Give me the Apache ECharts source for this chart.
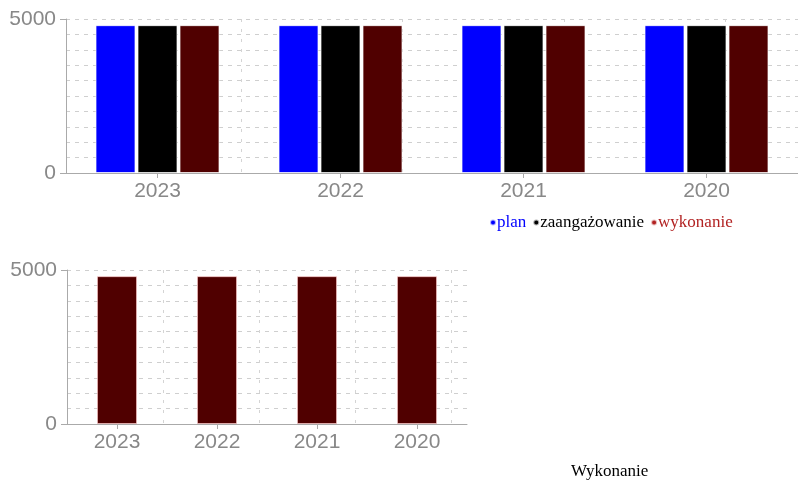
<!DOCTYPE html>
<html>
<head>
<meta charset="utf-8">
<script src="https://cdn.jsdelivr.net/npm/echarts@6/dist/echarts.min.js"></script>
<style>html,body{margin:0;padding:0;background:#fff}#c{width:798px;height:483px}</style>
</head>
<body>
<div id="c"></div>
<script>
var categories = ['2023', '2022', '2021', '2020'];
var plan = [4800, 4800, 4800, 4800];
var zaangazowanie = [4800, 4800, 4800, 4800];
var wykonanie = [4800, 4800, 4800, 4800];
var yTicks = [0, 5000];
var seriesNames = ['plan', 'zaangażowanie', 'wykonanie'];
var bottomTitle = 'Wykonanie';

// decorative vertical guide grid (hidden category axes)
var topGuide = []; for (var i = 0; i <= 50; i++) topGuide.push(String(i));
var botGuide = []; for (var j = 0; j <= 25; j++) botGuide.push(String(j));

var labelStyle = { color: '#888', fontSize: 21, fontFamily: 'Liberation Sans' };
var axisLineStyle = { color: '#aaa', width: 1 };
var hGrid = { color: '#cfcfcf', type: [4, 5], width: 1 };
var vGrid = { color: '#d4d4d4', type: [3, 7], width: 1 };

function yAxis(gi) {
  return {
    type: 'value', gridIndex: gi, min: yTicks[0], max: yTicks[1], interval: 5000,
    axisLine: { show: true, lineStyle: axisLineStyle },
    axisTick: { show: true, length: 6, lineStyle: axisLineStyle },
    axisLabel: Object.assign({ margin: 10, formatter: function (v) { return String(v); } }, labelStyle),
    splitLine: { show: true, lineStyle: hGrid },
    minorTick: { show: false, splitNumber: 10 },
    minorSplitLine: { show: true, lineStyle: hGrid }
  };
}
function xAxis(gi) {
  return {
    type: 'category', gridIndex: gi, data: categories,
    axisLine: { show: true, lineStyle: axisLineStyle },
    axisTick: { show: true, alignWithLabel: true, length: 5, lineStyle: axisLineStyle },
    axisLabel: Object.assign({ margin: 8 }, labelStyle),
    splitLine: { show: false }
  };
}
function guideAxis(gi, data, idx) {
  return {
    type: 'category', gridIndex: gi, data: data, boundaryGap: false, position: 'top',
    axisLine: { show: false }, axisTick: { show: false }, axisLabel: { show: false },
    splitLine: { show: true, lineStyle: vGrid, interval: function (i) { return idx.indexOf(i) >= 0; } }
  };
}

var itemBorder = { borderColor: 'rgba(255,255,255,0.7)', borderWidth: 1 };

var option = {
  animation: false,
  backgroundColor: '#fff',
  title: {
    text: bottomTitle, left: 566, top: 458,
    textStyle: { fontFamily: 'Liberation Serif', fontSize: 17, fontWeight: 'normal', color: '#000' }
  },
  legend: {
    left: 484, top: 209, icon: 'circle', itemWidth: 6, itemHeight: 6, itemGap: 6,
    selectedMode: false,
    textStyle: { fontFamily: 'Liberation Serif', fontSize: 17, padding: [0, 0, 0, -4] },
    data: [
      { name: seriesNames[0], itemStyle: { color: '#0000ff' }, textStyle: { color: '#0000ff' } },
      { name: seriesNames[1], itemStyle: { color: '#000000' }, textStyle: { color: '#000000' } },
      { name: seriesNames[2], itemStyle: { color: '#b22222' }, textStyle: { color: '#b22222' } }
    ]
  },
  grid: [
    { left: 66, width: 738, top: 19, bottom: 310 },
    { left: 67, width: 400, top: 270, bottom: 59 }
  ],
  xAxis: [xAxis(0), xAxis(1), guideAxis(0, topGuide, [12, 23, 34, 45]), guideAxis(1, botGuide, [6, 12, 18, 24])],
  yAxis: [yAxis(0), yAxis(1)],
  series: [
    { name: seriesNames[0], type: 'bar', xAxisIndex: 0, yAxisIndex: 0, data: plan, barWidth: 40, barGap: '5%',
      itemStyle: Object.assign({ color: '#0000ff' }, itemBorder) },
    { name: seriesNames[1], type: 'bar', xAxisIndex: 0, yAxisIndex: 0, data: zaangazowanie, barWidth: 40, barGap: '5%',
      itemStyle: Object.assign({ color: '#000000' }, itemBorder) },
    { name: seriesNames[2], type: 'bar', xAxisIndex: 0, yAxisIndex: 0, data: wykonanie, barWidth: 40, barGap: '5%',
      itemStyle: Object.assign({ color: '#500000' }, itemBorder) },
    { name: bottomTitle, type: 'bar', xAxisIndex: 1, yAxisIndex: 1, data: wykonanie, barWidth: 40,
      itemStyle: { color: '#500000', borderColor: 'rgba(255,200,200,0.6)', borderWidth: 1 } }
  ]
};
var chart = echarts.init(document.getElementById('c'), null, { renderer: 'canvas' });
chart.setOption(option);
</script>
</body>
</html>
